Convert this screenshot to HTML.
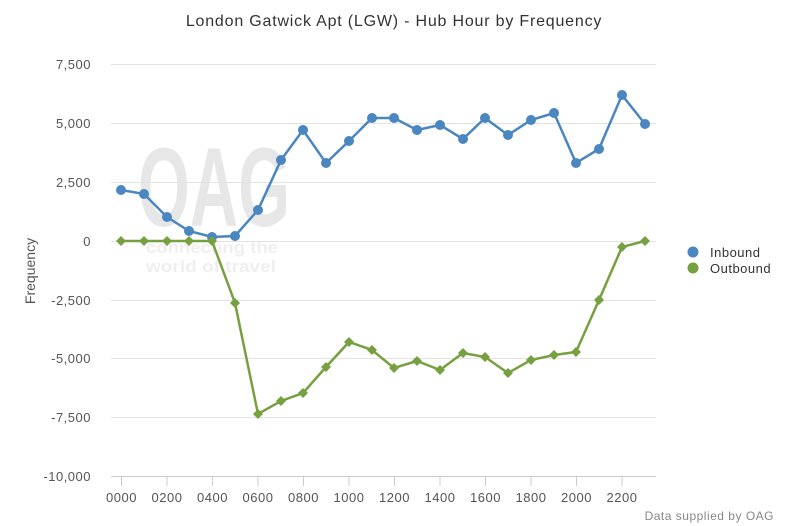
<!DOCTYPE html>
<html><head><meta charset="utf-8"><style>
html,body{margin:0;padding:0;background:#fff;}
svg{display:block;font-family:"Liberation Sans",sans-serif;}
</style></head><body>
<svg width="788" height="526" viewBox="0 0 788 526" xmlns="http://www.w3.org/2000/svg">
<rect width="788" height="526" fill="#fff"/>
<text x="394" y="26" text-anchor="middle" font-size="16" fill="#333" letter-spacing="0.8">London Gatwick Apt (LGW) - Hub Hour by Frequency</text>
<g opacity="0.6">
<text x="138" y="226" font-size="112" font-weight="bold" fill="#d8d8d8" textLength="152" lengthAdjust="spacingAndGlyphs">OAG</text>
<text x="146" y="253" font-size="17" font-weight="bold" fill="#e6e6e6" textLength="132" lengthAdjust="spacingAndGlyphs">connecting the</text>
<text x="146" y="272" font-size="17" font-weight="bold" fill="#e6e6e6" textLength="130" lengthAdjust="spacingAndGlyphs">world of travel</text>
</g>
<g stroke="#e3e3e3" stroke-width="1">
<line x1="111" y1="64.5" x2="656" y2="64.5"/>
<line x1="111" y1="123.5" x2="656" y2="123.5"/>
<line x1="111" y1="182.5" x2="656" y2="182.5"/>
<line x1="111" y1="241.5" x2="656" y2="241.5"/>
<line x1="111" y1="300.5" x2="656" y2="300.5"/>
<line x1="111" y1="358.5" x2="656" y2="358.5"/>
<line x1="111" y1="417.5" x2="656" y2="417.5"/>
</g>
<line x1="111" y1="476.5" x2="656" y2="476.5" stroke="#c8ccd6"/>
<g stroke="#c8ccd6">
<line x1="121.5" y1="477" x2="121.5" y2="486"/><line x1="167" y1="477" x2="167" y2="486"/><line x1="212.5" y1="477" x2="212.5" y2="486"/><line x1="258" y1="477" x2="258" y2="486"/><line x1="303.5" y1="477" x2="303.5" y2="486"/><line x1="349" y1="477" x2="349" y2="486"/><line x1="394.5" y1="477" x2="394.5" y2="486"/><line x1="440" y1="477" x2="440" y2="486"/><line x1="485.5" y1="477" x2="485.5" y2="486"/><line x1="531" y1="477" x2="531" y2="486"/><line x1="576.5" y1="477" x2="576.5" y2="486"/><line x1="622" y1="477" x2="622" y2="486"/>
</g>
<g font-size="13" fill="#555" text-anchor="end" letter-spacing="0.5">
<text x="91" y="69">7,500</text><text x="91" y="128">5,000</text><text x="91" y="187">2,500</text><text x="91" y="246">0</text><text x="91" y="305">-2,500</text><text x="91" y="363">-5,000</text><text x="91" y="422">-7,500</text><text x="91" y="481">-10,000</text>
</g>
<g font-size="13" fill="#555" text-anchor="middle" letter-spacing="0.5">
<text x="121.5" y="502">0000</text><text x="167" y="502">0200</text><text x="212.5" y="502">0400</text><text x="258" y="502">0600</text><text x="303.5" y="502">0800</text><text x="349" y="502">1000</text><text x="394.5" y="502">1200</text><text x="440" y="502">1400</text><text x="485.5" y="502">1600</text><text x="531" y="502">1800</text><text x="576.5" y="502">2000</text><text x="622" y="502">2200</text>
</g>
<text transform="translate(35,271) rotate(-90)" text-anchor="middle" font-size="14" fill="#555">Frequency</text>
<polyline fill="none" stroke="#4a86c0" stroke-width="2.5" points="121,190 144,194 167,217 189,231 212,237 235,236 258,210 281,160 303,130 326,163 349,141 372,118 394,118 417,130 440,125 463,139 485,118 508,135 531,120 554,113 576,163 599,149 622,95 645,124"/>
<g fill="#4a86c0">
<circle cx="121" cy="190" r="5"/><circle cx="144" cy="194" r="5"/><circle cx="167" cy="217" r="5"/><circle cx="189" cy="231" r="5"/><circle cx="212" cy="237" r="5"/><circle cx="235" cy="236" r="5"/><circle cx="258" cy="210" r="5"/><circle cx="281" cy="160" r="5"/><circle cx="303" cy="130" r="5"/><circle cx="326" cy="163" r="5"/><circle cx="349" cy="141" r="5"/><circle cx="372" cy="118" r="5"/><circle cx="394" cy="118" r="5"/><circle cx="417" cy="130" r="5"/><circle cx="440" cy="125" r="5"/><circle cx="463" cy="139" r="5"/><circle cx="485" cy="118" r="5"/><circle cx="508" cy="135" r="5"/><circle cx="531" cy="120" r="5"/><circle cx="554" cy="113" r="5"/><circle cx="576" cy="163" r="5"/><circle cx="599" cy="149" r="5"/><circle cx="622" cy="95" r="5"/><circle cx="645" cy="124" r="5"/>
</g>
<polyline fill="none" stroke="#77a040" stroke-width="2.5" points="121,241 144,241 167,241 189,241 212,241 235,303 258,414 281,401 303,393 326,367 349,342 372,350 394,368 417,361 440,370 463,353 485,357 508,373 531,360 554,355 576,352 599,300 622,247 645,241"/>
<g fill="#77a040">
<path d="M121,236l5,5l-5,5l-5,-5z"/><path d="M144,236l5,5l-5,5l-5,-5z"/><path d="M167,236l5,5l-5,5l-5,-5z"/><path d="M189,236l5,5l-5,5l-5,-5z"/><path d="M212,236l5,5l-5,5l-5,-5z"/><path d="M235,298l5,5l-5,5l-5,-5z"/><path d="M258,409l5,5l-5,5l-5,-5z"/><path d="M281,396l5,5l-5,5l-5,-5z"/><path d="M303,388l5,5l-5,5l-5,-5z"/><path d="M326,362l5,5l-5,5l-5,-5z"/><path d="M349,337l5,5l-5,5l-5,-5z"/><path d="M372,345l5,5l-5,5l-5,-5z"/><path d="M394,363l5,5l-5,5l-5,-5z"/><path d="M417,356l5,5l-5,5l-5,-5z"/><path d="M440,365l5,5l-5,5l-5,-5z"/><path d="M463,348l5,5l-5,5l-5,-5z"/><path d="M485,352l5,5l-5,5l-5,-5z"/><path d="M508,368l5,5l-5,5l-5,-5z"/><path d="M531,355l5,5l-5,5l-5,-5z"/><path d="M554,350l5,5l-5,5l-5,-5z"/><path d="M576,347l5,5l-5,5l-5,-5z"/><path d="M599,295l5,5l-5,5l-5,-5z"/><path d="M622,242l5,5l-5,5l-5,-5z"/><path d="M645,236l5,5l-5,5l-5,-5z"/>
</g>
<circle cx="693" cy="252" r="5.5" fill="#4a86c0"/>
<circle cx="693" cy="268" r="5.5" fill="#77a040"/>
<g font-size="13" fill="#333" letter-spacing="0.5"><text x="710" y="257">Inbound</text><text x="710" y="273">Outbound</text></g>
<text x="774" y="520" text-anchor="end" font-size="12" fill="#888" letter-spacing="0.5">Data supplied by OAG</text>
</svg>
</body></html>
